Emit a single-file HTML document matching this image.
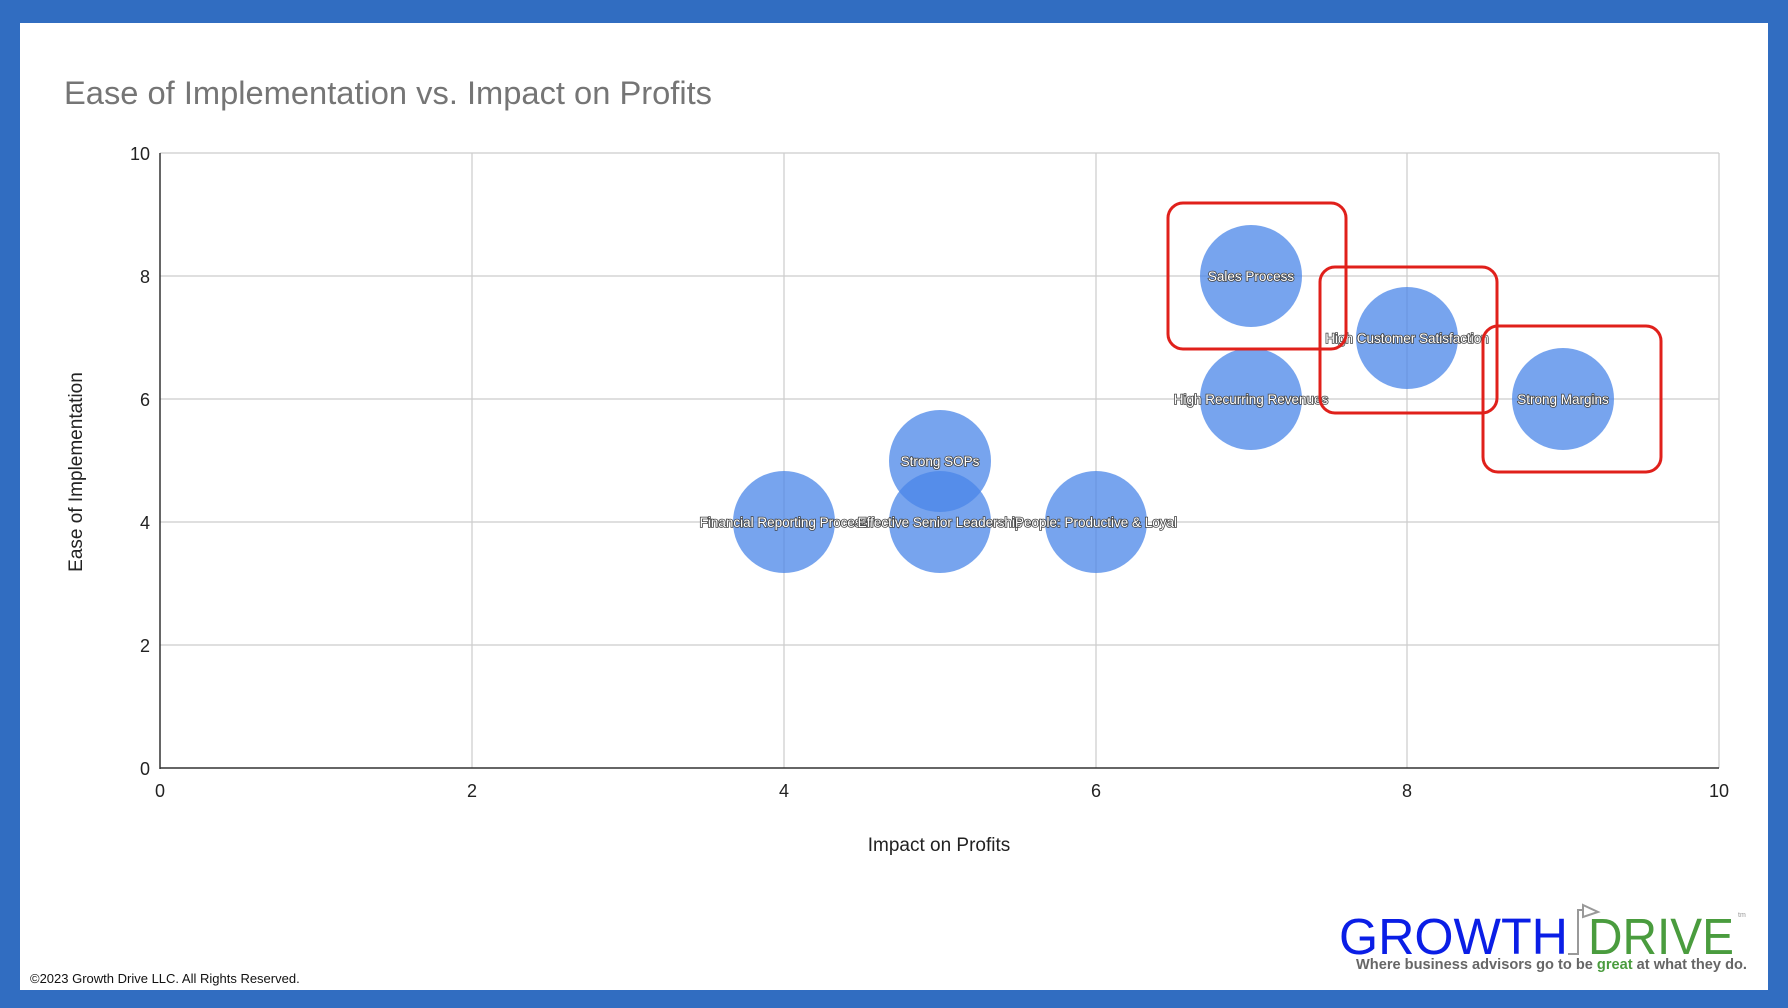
<!DOCTYPE html>
<html><head><meta charset="utf-8"><style>
html,body{margin:0;padding:0;width:1788px;height:1008px;overflow:hidden;background:#fff}
svg{display:block}
text{font-family:"Liberation Sans",Arial,sans-serif}
.bl{font-size:13.5px;fill:#fff;stroke:#444;stroke-width:1.6px;paint-order:stroke;text-anchor:middle}
</style></head><body>
<svg width="1788" height="1008" viewBox="0 0 1788 1008">
<rect x="0" y="0" width="1788" height="1008" fill="#316dc1"/>
<rect x="20" y="23" width="1748" height="967" fill="#fff"/>
<text x="64" y="104" font-size="32" fill="#757575" textLength="648" lengthAdjust="spacingAndGlyphs">Ease of Implementation vs. Impact on Profits</text>
<g stroke="#ccc" stroke-width="1.2">
<line x1="160" y1="153" x2="1719" y2="153"/><line x1="160" y1="276" x2="1719" y2="276"/>
<line x1="160" y1="399" x2="1719" y2="399"/><line x1="160" y1="522" x2="1719" y2="522"/>
<line x1="160" y1="645" x2="1719" y2="645"/>
<line x1="472" y1="153" x2="472" y2="768"/><line x1="784" y1="153" x2="784" y2="768"/>
<line x1="1096" y1="153" x2="1096" y2="768"/><line x1="1407" y1="153" x2="1407" y2="768"/>
<line x1="1719" y1="153" x2="1719" y2="768"/>
</g>
<line x1="160" y1="153" x2="160" y2="769" stroke="#333" stroke-width="1.5"/>
<line x1="160" y1="768" x2="1719" y2="768" stroke="#333" stroke-width="1.5"/>
<g font-size="18" fill="#222" text-anchor="end">
<text x="150" y="160">10</text><text x="150" y="283">8</text><text x="150" y="406">6</text>
<text x="150" y="529">4</text><text x="150" y="652">2</text><text x="150" y="775">0</text>
</g>
<g font-size="18" fill="#222" text-anchor="middle">
<text x="160" y="797">0</text><text x="472" y="797">2</text><text x="784" y="797">4</text>
<text x="1096" y="797">6</text><text x="1407" y="797">8</text><text x="1719" y="797">10</text>
</g>
<text x="939" y="851" font-size="19" fill="#222" text-anchor="middle">Impact on Profits</text>
<text transform="translate(82,472) rotate(-90)" font-size="19" fill="#222" text-anchor="middle">Ease of Implementation</text>
<g fill="#4a86e8" fill-opacity="0.75">
<circle cx="784" cy="522" r="51"/><circle cx="940" cy="522" r="51"/><circle cx="940" cy="461" r="51"/>
<circle cx="1096" cy="522" r="51"/><circle cx="1251" cy="399" r="51"/><circle cx="1251" cy="276" r="51"/>
<circle cx="1407" cy="338" r="51"/><circle cx="1563" cy="399" r="51"/>
</g>
<text class="bl" x="784" y="527">Financial Reporting Process</text>
<text class="bl" x="940" y="527">Effective Senior Leadership</text>
<text class="bl" x="940" y="466">Strong SOPs</text>
<text class="bl" x="1096" y="527">People: Productive &amp; Loyal</text>
<text class="bl" x="1251" y="404">High Recurring Revenues</text>
<text class="bl" x="1251" y="281">Sales Process</text>
<text class="bl" x="1407" y="343">High Customer Satisfaction</text>
<text class="bl" x="1563" y="404">Strong Margins</text>
<g fill="none" stroke="#e0201b" stroke-width="3">
<rect x="1168" y="203" width="178" height="146" rx="15"/>
<rect x="1320" y="267" width="177" height="146" rx="15"/>
<rect x="1483" y="326" width="178" height="146" rx="15"/>
</g>
<text x="30" y="983" font-size="13" fill="#111">©2023 Growth Drive LLC. All Rights Reserved.</text>
<text x="1339" y="954" font-size="51" fill="#0a1ee6" textLength="229" lengthAdjust="spacingAndGlyphs">GROWTH</text>
<polyline points="1568,954 1578,954 1578,910 1582,910" fill="none" stroke="#999" stroke-width="2"/>
<polygon points="1583,905 1598,912 1583,917" fill="none" stroke="#999" stroke-width="2"/>
<text x="1588" y="954" font-size="51" fill="#4a9c3e" textLength="146" lengthAdjust="spacingAndGlyphs">DRIVE</text>
<text x="1738" y="917" font-size="7" fill="#999">tm</text>
<text x="1356" y="969" font-size="15" font-weight="bold" fill="#666" textLength="391" lengthAdjust="spacingAndGlyphs">Where business advisors go to be <tspan fill="#4a9c3e">great</tspan> at what they do.</text>
</svg>
</body></html>
